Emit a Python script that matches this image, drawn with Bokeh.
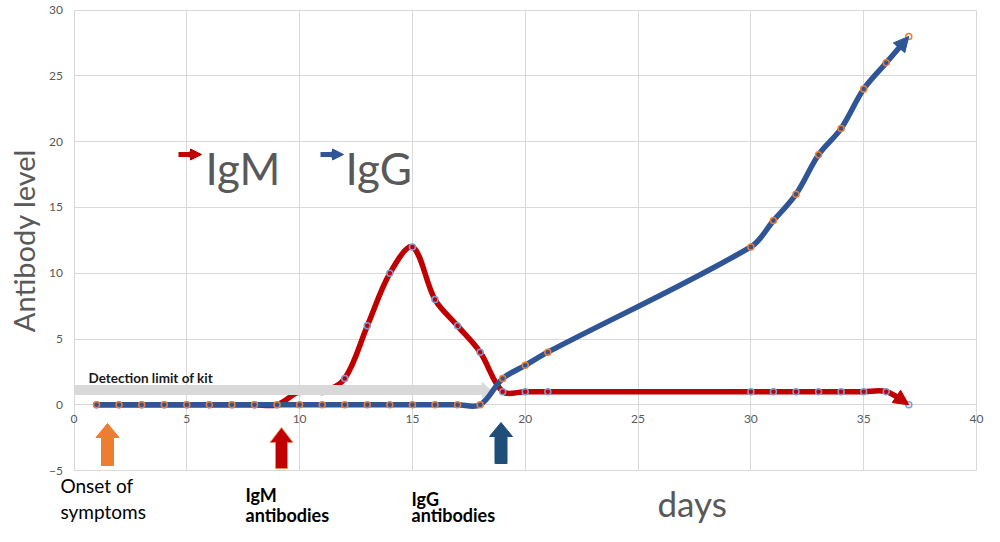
import numpy as np
from bokeh.plotting import figure
from bokeh.models import Range1d, FixedTicker, Label, Arrow, NormalHead, ColumnDataSource
from bokeh.embed import file_html
from bokeh.resources import INLINE

# ---------------- data ----------------
days = [1, 2, 3, 4, 5, 6, 7, 8, 9, 10, 11, 12, 13, 14, 15, 16, 17, 18, 19, 20, 21,
        30, 31, 32, 33, 34, 35, 36, 37]
igm = [0, 0, 0, 0, 0, 0, 0, 0, 0, 1, 1, 2, 6, 10, 12, 8, 6, 4, 1, 1, 1,
       1, 1, 1, 1, 1, 1, 1, 0]
igg = [0, 0, 0, 0, 0, 0, 0, 0, 0, 0, 0, 0, 0, 0, 0, 0, 0, 0, 2, 3, 4,
       12, 14, 16, 19, 21, 24, 26, 28]
x_ticks = [0, 5, 10, 15, 20, 25, 30, 35, 40]
y_ticks = [-5, 0, 5, 10, 15, 20, 25, 30]

RED = "#c00000"
BLUE = "#2f5597"
ORANGE = "#ed7d31"
DARKBLUE = "#1f4e79"
GRID = "#d9d9d9"
TXT = "#595959"
FONT = "Lato"

W, H = 984, 526
# frame covers the whole canvas; pixel -> data helpers for annotation placement
X0PX, SX = 73.5, 22.5625
Y0PX, SY = 404.3, 13.157


def dx(xp):
    return (xp - X0PX) / SX


def dy(yp):
    return (Y0PX - yp) / SY


p = figure(width=W, height=H, output_backend="svg", toolbar_location=None,
           x_range=Range1d(dx(0), dx(W)), y_range=Range1d(dy(H), dy(0)),
           min_border_left=0, min_border_right=0, min_border_top=0, min_border_bottom=0,
           background_fill_color="white", border_fill_color="white")
p.outline_line_color = None
p.xaxis.ticker = FixedTicker(ticks=x_ticks)
p.yaxis.ticker = FixedTicker(ticks=y_ticks)
p.xaxis.bounds = (x_ticks[0], x_ticks[-1])
p.yaxis.bounds = (y_ticks[0], y_ticks[-1])
p.grid.grid_line_color = GRID
p.grid.grid_line_width = 1
_manual_grid = False
try:
    p.xgrid.cross_bounds = (y_ticks[0], y_ticks[-1])
    p.ygrid.cross_bounds = (x_ticks[0], x_ticks[-1])
except Exception:
    _manual_grid = True
if _manual_grid:
    p.grid.visible = False
    p.segment(x0=x_ticks, y0=[y_ticks[0]] * len(x_ticks), x1=x_ticks, y1=[y_ticks[-1]] * len(x_ticks),
              line_color=GRID, line_width=1)
    p.segment(x0=[x_ticks[0]] * len(y_ticks), y0=y_ticks, x1=[x_ticks[-1]] * len(y_ticks), y1=y_ticks,
              line_color=GRID, line_width=1)

for ax in (p.xaxis[0], p.yaxis[0]):
    ax.axis_line_color = None
    ax.major_tick_line_color = None
    ax.minor_tick_line_color = None
    ax.major_tick_in = 0
    ax.major_tick_out = 0
    ax.major_label_text_color = TXT
    ax.major_label_text_font = FONT
    ax.major_label_text_font_size = "12px"
    ax.fixed_location = 0
p.xaxis.major_label_standoff = 10
p.yaxis.major_label_standoff = 11
p.yaxis.axis_label = "Antibody level"
p.yaxis.axis_label_text_font = FONT
p.yaxis.axis_label_text_font_size = "29px"
p.yaxis.axis_label_text_font_style = "normal"
p.yaxis.axis_label_text_color = TXT
p.yaxis.axis_label_standoff = 6


def smooth_segments(xs, ys):
    P = np.column_stack([np.array(xs, float) * SX, np.array(ys, float) * SY])
    n = len(P)
    segs = []
    for i in range(n - 1):
        p0, p1 = P[i], P[i + 1]
        pm = P[i - 1] if i > 0 else None
        pn = P[i + 2] if i + 2 < n else None
        d1 = np.linalg.norm(p1 - p0)
        if pm is None:
            c0 = p0 + (p1 - p0) / 6
        else:
            d0 = np.linalg.norm(p0 - pm)
            c0 = p0 + (p1 - pm) * (d1 / (d0 + d1)) / 3
        if pn is None:
            c1 = p1 - (p1 - p0) / 6
        else:
            d2 = np.linalg.norm(pn - p1)
            c1 = p1 - (pn - p0) * (d1 / (d1 + d2)) / 3
        segs.append([p0, c0, c1, p1])
    return segs


def bez_pt(s, t):
    a, b, c, d = s
    return (1 - t) ** 3 * a + 3 * (1 - t) ** 2 * t * b + 3 * (1 - t) * t ** 2 * c + t ** 3 * d


def cut_last(segs, cut_px):
    s = segs[-1]
    end = s[3]
    t = 1.0
    for tt in np.linspace(0, 1, 401):
        if np.linalg.norm(bez_pt(s, tt) - end) <= cut_px:
            t = tt
            break
    a, b, c, d = s
    ab = a + (b - a) * t
    bc = b + (c - b) * t
    cd = c + (d - c) * t
    abc = ab + (bc - ab) * t
    bcd = bc + (cd - bc) * t
    abcd = abc + (bcd - abc) * t
    segs[-1] = [a, ab, abc, abcd]
    return segs, abcd, end


def draw_series(xs, ys, color, head_size):
    segs = smooth_segments(xs, ys)
    segs, start, end = cut_last(segs, head_size * 0.7)
    src = ColumnDataSource(dict(
        x0=[s[0][0] / SX for s in segs], y0=[s[0][1] / SY for s in segs],
        cx0=[s[1][0] / SX for s in segs], cy0=[s[1][1] / SY for s in segs],
        cx1=[s[2][0] / SX for s in segs], cy1=[s[2][1] / SY for s in segs],
        x1=[s[3][0] / SX for s in segs], y1=[s[3][1] / SY for s in segs]))
    p.bezier(x0="x0", y0="y0", x1="x1", y1="y1", cx0="cx0", cy0="cy0", cx1="cx1", cy1="cy1",
             source=src, line_color=color, line_width=5.5, line_cap="round")
    p.add_layout(Arrow(end=NormalHead(size=head_size, fill_color=color, line_color=color, line_width=1),
                       x_start=start[0] / SX, y_start=start[1] / SY,
                       x_end=end[0] / SX, y_end=end[1] / SY, line_alpha=0))


def block_arrow_up(xc, ytop, yhead, ybot, color, outline=None):
    # pixel geometry of an upward block arrow
    shw, hhw = 6, 11.5
    xs = [dx(xc - shw), dx(xc - shw), dx(xc - hhw), dx(xc), dx(xc + hhw), dx(xc + shw), dx(xc + shw)]
    ys = [dy(ybot), dy(yhead), dy(yhead), dy(ytop), dy(yhead), dy(yhead), dy(ybot)]
    p.patch(xs, ys, fill_color=color, line_color=outline or color, line_width=1)


# IgM curve
draw_series(days, igm, RED, 15)
p.scatter(days, igm, marker="circle", size=6, fill_alpha=0, line_color="#7f9bd3", line_width=1.5)

# detection limit arrow (pixel geometry)
gx0, gx1, gyc = 75, 490, 389.5
shh, hhh, hl = 4.5, 7.5, 8
p.patch([dx(gx0), dx(gx1 - hl), dx(gx1 - hl), dx(gx1), dx(gx1 - hl), dx(gx1 - hl), dx(gx0)],
        [dy(gyc + shh), dy(gyc + shh), dy(gyc + hhh), dy(gyc), dy(gyc - hhh), dy(gyc - shh), dy(gyc - shh)],
        fill_color="#d9d9d9", line_color="#d9d9d9")


def lab(xp, yp, t, size, style="normal", color="#000000"):
    p.add_layout(Label(x=dx(xp), y=dy(yp), text=t, text_font=FONT, text_font_size=size,
                       text_font_style=style, text_color=color, text_baseline="alphabetic"))


lab(88, 377, "Detection limit of kit", "13.5px", "bold", "#1a1a1a")

# IgG curve
draw_series(days, igg, BLUE, 15)
p.scatter(days, igg, marker="circle", size=6, fill_alpha=0, line_color=ORANGE, line_width=1.5)

# event arrows
block_arrow_up(107, 423, 437, 465, ORANGE)
block_arrow_up(281, 427, 442, 468, RED, outline="#e8905a")
block_arrow_up(500.5, 422, 436, 463, DARKBLUE)

# legend
for (x0, x1, xm, col, mcol, txt, tx) in [(178, 201, 191, RED, "#7f9bd3", "IgM", 205),
                                         (320, 343, 333, BLUE, "#e0776a", "IgG", 345)]:
    p.add_layout(Arrow(end=NormalHead(size=11, fill_color=col, line_color=col),
                       x_start=dx(x0), y_start=dy(154), x_end=dx(x1), y_end=dy(154),
                       line_color=col, line_width=5))
    p.scatter([dx(xm)], [dy(154)], marker="circle", size=6, fill_alpha=0, line_color=mcol, line_width=1.5)
    lab(tx, 167, txt, "44px", color=TXT)

# bottom texts
lab(60, 485, "Onset of", "19px")
lab(60, 511, "symptoms", "19px")
lab(245, 494, "IgM", "18px", "bold")
lab(245, 514, "antibodies", "18px", "bold")
lab(411, 498, "IgG", "18px", "bold")
lab(411, 514, "antibodies", "18px", "bold")
lab(657, 502, "days", "35px", color=TXT)

open("out.html", "w").write(file_html(p, INLINE))
